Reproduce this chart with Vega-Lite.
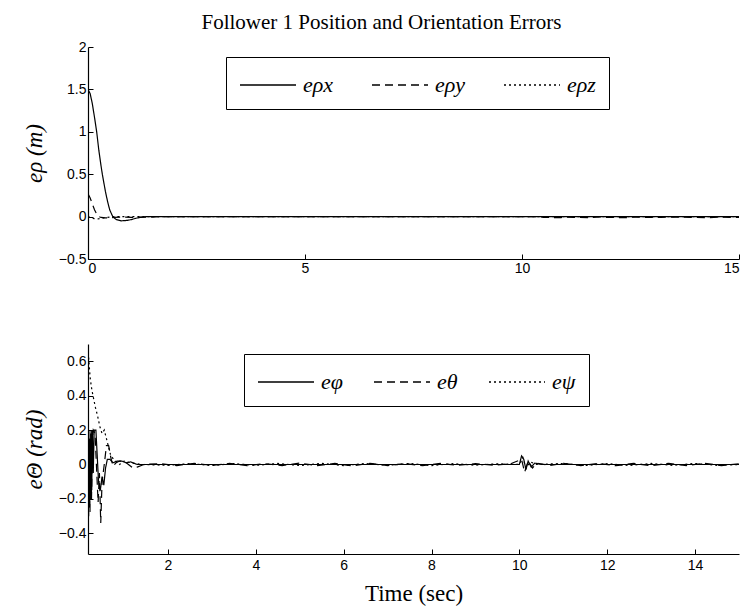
{
  "$schema": "https://vega.github.io/schema/vega-lite/v6.json",
  "autosize": {"type": "pad"},
  "padding": {"left": 23, "top": 12, "right": 5, "bottom": 5},
  "background": "white",
  "bounds": "flush",
  "spacing": 85,
  "resolve": {"scale": {"strokeDash": "independent"}, "legend": {"strokeDash": "independent"}},
  "title": {"text": "Follower 1 Position and Orientation Errors", "font": "Liberation Serif", "fontSize": 21, "fontWeight": "normal", "anchor": "middle", "offset": 7, "color": "black"},
  "config": {
    "view": {"stroke": null},
    "axis": {"domainColor": "black", "tickColor": "black", "labelColor": "black", "titleColor": "black", "grid": false, "tickSize": -5, "labelFont": "Liberation Sans", "labelFontSize": 14, "labelPadding": 7, "titleFont": "Liberation Serif", "titleFontSize": 23, "titleFontWeight": "normal", "domainWidth": 1.2},
    "legend": {"strokeColor": "black", "fillColor": "white", "padding": 13, "symbolType": "M-2,0H2", "symbolSize": 784, "symbolOffset": 14, "symbolStrokeWidth": 1.3, "symbolStrokeColor": "black", "labelFont": "Liberation Serif", "labelFontStyle": "italic", "labelFontSize": 22, "labelColor": "black", "labelOffset": 20, "columnPadding": 34}
  },
  "vconcat": [
    {
      "width": 651,
      "height": 212,
      "data": {"values": [
        {"s":"eρx","t":0,"v":1.5},{"s":"eρx","t":0.05,"v":1.45},{"s":"eρx","t":0.1,"v":1.33},{"s":"eρx","t":0.15,"v":1.17},{"s":"eρx","t":0.2,"v":1.0},{"s":"eρx","t":0.25,"v":0.78},{"s":"eρx","t":0.3,"v":0.6},{"s":"eρx","t":0.33,"v":0.5},{"s":"eρx","t":0.4,"v":0.3},{"s":"eρx","t":0.45,"v":0.18},{"s":"eρx","t":0.5,"v":0.08},{"s":"eρx","t":0.57,"v":0.0},{"s":"eρx","t":0.65,"v":-0.035},{"s":"eρx","t":0.76,"v":-0.05},{"s":"eρx","t":0.9,"v":-0.045},{"s":"eρx","t":1.0,"v":-0.035},{"s":"eρx","t":1.1,"v":-0.02},{"s":"eρx","t":1.2,"v":-0.01},{"s":"eρx","t":1.35,"v":0},{"s":"eρx","t":15,"v":0},
        {"s":"eρy","t":0,"v":0.27},{"s":"eρy","t":0.05,"v":0.22},{"s":"eρy","t":0.1,"v":0.15},{"s":"eρy","t":0.15,"v":0.08},{"s":"eρy","t":0.2,"v":0.03},{"s":"eρy","t":0.25,"v":0.0},{"s":"eρy","t":0.3,"v":-0.01},{"s":"eρy","t":0.4,"v":-0.015},{"s":"eρy","t":0.6,"v":-0.01},{"s":"eρy","t":0.8,"v":-0.005},{"s":"eρy","t":1.0,"v":-0.01},{"s":"eρy","t":1.2,"v":-0.005},{"s":"eρy","t":1.4,"v":-0.008},{"s":"eρy","t":1.6,"v":0},{"s":"eρy","t":10.4,"v":0},{"s":"eρy","t":10.5,"v":-0.01},{"s":"eρy","t":10.9,"v":-0.012},{"s":"eρy","t":11.0,"v":-0.005},{"s":"eρy","t":11.2,"v":-0.01},{"s":"eρy","t":11.6,"v":-0.012},{"s":"eρy","t":11.8,"v":-0.004},{"s":"eρy","t":12.0,"v":-0.01},{"s":"eρy","t":12.4,"v":-0.012},{"s":"eρy","t":12.6,"v":-0.003},{"s":"eρy","t":12.8,"v":-0.01},{"s":"eρy","t":13.2,"v":-0.008},{"s":"eρy","t":13.5,"v":-0.005},{"s":"eρy","t":13.9,"v":-0.01},{"s":"eρy","t":14.3,"v":-0.012},{"s":"eρy","t":14.6,"v":-0.006},{"s":"eρy","t":15,"v":-0.01},
        {"s":"eρz","t":0,"v":0.0},{"s":"eρz","t":0.1,"v":-0.02},{"s":"eρz","t":0.2,"v":-0.03},{"s":"eρz","t":0.3,"v":-0.02},{"s":"eρz","t":0.45,"v":-0.01},{"s":"eρz","t":0.6,"v":0},{"s":"eρz","t":15,"v":0}
      ]},
      "mark": {"type": "line", "color": "black", "strokeWidth": 1.2, "clip": true},
      "encoding": {
        "x": {"field": "t", "type": "quantitative", "scale": {"domain": [0, 15], "nice": false, "zero": false}, "axis": {"values": [0, 5, 10, 15], "title": null, "format": "~g"}},
        "y": {"field": "v", "type": "quantitative", "scale": {"domain": [-0.5, 2], "nice": false}, "axis": {"values": [-0.5, 0, 0.5, 1, 1.5, 2], "format": "~g", "title": "eρ (m)", "titleFontStyle": "italic", "titlePadding": 12}},
        "strokeDash": {"field": "s", "type": "nominal", "scale": {"domain": ["eρx", "eρy", "eρz"], "range": [[1, 0], [8, 5], [2, 3]]}, "legend": {"orient": "none", "legendX": 138, "legendY": 10, "direction": "horizontal", "columns": 3, "title": null, "columnPadding": 35, "labelFont": "Liberation Serif", "labelFontStyle": "italic"}}
      }
    },
    {
      "width": 651,
      "height": 210,
      "data": {"values": [
        {"s":"eφ","t":0.18,"v":-0.3},{"s":"eφ","t":0.19,"v":0.1},{"s":"eφ","t":0.2,"v":0.2},{"s":"eφ","t":0.21,"v":-0.25},{"s":"eφ","t":0.22,"v":0.15},{"s":"eφ","t":0.235,"v":-0.2},{"s":"eφ","t":0.25,"v":0.2},{"s":"eφ","t":0.265,"v":-0.15},{"s":"eφ","t":0.28,"v":0.2},{"s":"eφ","t":0.3,"v":-0.05},{"s":"eφ","t":0.32,"v":0.2},{"s":"eφ","t":0.36,"v":0.2},{"s":"eφ","t":0.39,"v":0.05},{"s":"eφ","t":0.42,"v":-0.1},{"s":"eφ","t":0.46,"v":-0.15},{"s":"eφ","t":0.5,"v":-0.07},{"s":"eφ","t":0.54,"v":-0.12},{"s":"eφ","t":0.58,"v":-0.02},{"s":"eφ","t":0.62,"v":0.03},{"s":"eφ","t":0.68,"v":0.03},{"s":"eφ","t":0.75,"v":0.01},{"s":"eφ","t":0.85,"v":0.02},{"s":"eφ","t":0.95,"v":0.02},{"s":"eφ","t":1.05,"v":0.01},{"s":"eφ","t":1.15,"v":0.015},{"s":"eφ","t":1.3,"v":0.0},{"s":"eφ","t":10.0,"v":0.0},{"s":"eφ","t":10.05,"v":0.05},{"s":"eφ","t":10.1,"v":0.03},{"s":"eφ","t":10.15,"v":-0.03},{"s":"eφ","t":10.2,"v":0.02},{"s":"eφ","t":10.27,"v":-0.015},{"s":"eφ","t":10.35,"v":0.008},{"s":"eφ","t":10.5,"v":0.0},{"s":"eφ","t":15,"v":0},
        {"s":"eθ","t":0.18,"v":0.1},{"s":"eθ","t":0.195,"v":-0.3},{"s":"eθ","t":0.21,"v":0.15},{"s":"eθ","t":0.225,"v":-0.28},{"s":"eθ","t":0.24,"v":0.18},{"s":"eθ","t":0.26,"v":-0.2},{"s":"eθ","t":0.28,"v":0.15},{"s":"eθ","t":0.3,"v":0.2},{"s":"eθ","t":0.34,"v":0.18},{"s":"eθ","t":0.38,"v":-0.05},{"s":"eθ","t":0.41,"v":-0.22},{"s":"eθ","t":0.44,"v":-0.05},{"s":"eθ","t":0.47,"v":-0.34},{"s":"eθ","t":0.5,"v":-0.1},{"s":"eθ","t":0.55,"v":0.0},{"s":"eθ","t":0.6,"v":0.11},{"s":"eθ","t":0.65,"v":0.11},{"s":"eθ","t":0.7,"v":0.04},{"s":"eθ","t":0.75,"v":-0.01},{"s":"eθ","t":0.82,"v":0.01},{"s":"eθ","t":0.9,"v":0.02},{"s":"eθ","t":1.0,"v":0.02},{"s":"eθ","t":1.1,"v":0.0},{"s":"eθ","t":1.2,"v":-0.02},{"s":"eθ","t":1.3,"v":-0.015},{"s":"eθ","t":1.45,"v":0.0},{"s":"eθ","t":1.8,"v":0.005},{"s":"eθ","t":2.2,"v":-0.006},{"s":"eθ","t":2.6,"v":0.007},{"s":"eθ","t":3.0,"v":-0.005},{"s":"eθ","t":3.4,"v":0.006},{"s":"eθ","t":3.8,"v":-0.007},{"s":"eθ","t":4.2,"v":0.005},{"s":"eθ","t":4.6,"v":-0.006},{"s":"eθ","t":5.0,"v":0.008},{"s":"eθ","t":5.4,"v":-0.007},{"s":"eθ","t":5.8,"v":0.006},{"s":"eθ","t":6.2,"v":-0.008},{"s":"eθ","t":6.6,"v":0.007},{"s":"eθ","t":7.0,"v":-0.006},{"s":"eθ","t":7.4,"v":0.005},{"s":"eθ","t":7.8,"v":-0.007},{"s":"eθ","t":8.2,"v":0.006},{"s":"eθ","t":8.6,"v":-0.005},{"s":"eθ","t":9.0,"v":0.005},{"s":"eθ","t":9.4,"v":-0.004},{"s":"eθ","t":9.8,"v":0.004},{"s":"eθ","t":10.05,"v":0.03},{"s":"eθ","t":10.12,"v":-0.045},{"s":"eθ","t":10.2,"v":0.02},{"s":"eθ","t":10.3,"v":-0.02},{"s":"eθ","t":10.4,"v":0.008},{"s":"eθ","t":10.7,"v":-0.006},{"s":"eθ","t":11.0,"v":0.007},{"s":"eθ","t":11.4,"v":-0.006},{"s":"eθ","t":11.8,"v":0.006},{"s":"eθ","t":12.2,"v":-0.007},{"s":"eθ","t":12.6,"v":0.006},{"s":"eθ","t":13.0,"v":-0.007},{"s":"eθ","t":13.4,"v":0.007},{"s":"eθ","t":13.8,"v":-0.006},{"s":"eθ","t":14.2,"v":0.007},{"s":"eθ","t":14.6,"v":-0.006},{"s":"eθ","t":15,"v":0.004},
        {"s":"eψ","t":0.18,"v":0.68},{"s":"eψ","t":0.2,"v":0.6},{"s":"eψ","t":0.23,"v":0.5},{"s":"eψ","t":0.27,"v":0.43},{"s":"eψ","t":0.31,"v":0.38},{"s":"eψ","t":0.35,"v":0.33},{"s":"eψ","t":0.4,"v":0.28},{"s":"eψ","t":0.45,"v":0.22},{"s":"eψ","t":0.5,"v":0.18},{"s":"eψ","t":0.55,"v":0.2},{"s":"eψ","t":0.6,"v":0.15},{"s":"eψ","t":0.65,"v":0.1},{"s":"eψ","t":0.7,"v":0.05},{"s":"eψ","t":0.8,"v":0.02},{"s":"eψ","t":0.9,"v":0.0},{"s":"eψ","t":1.0,"v":0.02},{"s":"eψ","t":1.15,"v":0.01},{"s":"eψ","t":1.4,"v":0.0},{"s":"eψ","t":2.0,"v":-0.005},{"s":"eψ","t":2.5,"v":0.005},{"s":"eψ","t":3.0,"v":-0.006},{"s":"eψ","t":3.5,"v":0.005},{"s":"eψ","t":4.0,"v":-0.005},{"s":"eψ","t":4.5,"v":0.006},{"s":"eψ","t":5.0,"v":-0.006},{"s":"eψ","t":5.5,"v":0.007},{"s":"eψ","t":6.0,"v":-0.006},{"s":"eψ","t":6.5,"v":0.006},{"s":"eψ","t":7.0,"v":-0.005},{"s":"eψ","t":7.5,"v":0.006},{"s":"eψ","t":8.0,"v":-0.006},{"s":"eψ","t":8.5,"v":0.005},{"s":"eψ","t":9.0,"v":-0.004},{"s":"eψ","t":9.5,"v":0.004},{"s":"eψ","t":10.0,"v":0.0},{"s":"eψ","t":10.08,"v":0.04},{"s":"eψ","t":10.15,"v":-0.02},{"s":"eψ","t":10.25,"v":0.015},{"s":"eψ","t":10.4,"v":0.0},{"s":"eψ","t":11.0,"v":0.006},{"s":"eψ","t":11.5,"v":-0.006},{"s":"eψ","t":12.0,"v":0.005},{"s":"eψ","t":12.5,"v":-0.006},{"s":"eψ","t":13.0,"v":0.006},{"s":"eψ","t":13.5,"v":-0.005},{"s":"eψ","t":14.0,"v":0.006},{"s":"eψ","t":14.5,"v":-0.005},{"s":"eψ","t":15,"v":0.0}
      ]},
      "mark": {"type": "line", "color": "black", "strokeWidth": 1.2, "clip": true},
      "encoding": {
        "x": {"field": "t", "type": "quantitative", "scale": {"domain": [0.18, 15], "nice": false, "zero": false}, "axis": {"values": [2, 4, 6, 8, 10, 12, 14], "title": "Time (sec)", "format": "~g", "labelPadding": 9, "titlePadding": 10}},
        "y": {"field": "v", "type": "quantitative", "scale": {"domain": [-0.52, 0.7], "nice": false}, "axis": {"values": [-0.4, -0.2, 0, 0.2, 0.4, 0.6], "format": "~g", "title": "eΘ (rad)", "titleFontStyle": "italic", "titlePadding": 12}},
        "strokeDash": {"field": "s", "type": "nominal", "scale": {"domain": ["eφ", "eθ", "eψ"], "range": [[1, 0], [8, 5], [2, 3]]}, "legend": {"orient": "none", "legendX": 156, "legendY": 10, "direction": "horizontal", "columns": 3, "title": null, "columnPadding": 28, "labelFont": "Liberation Serif", "labelFontStyle": "italic"}}
      }
    }
  ]
}
